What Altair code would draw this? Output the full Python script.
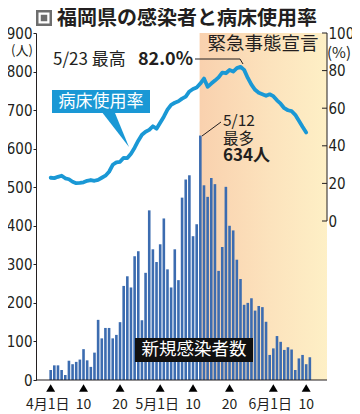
import altair as alt
import pandas as pd

# ---- data ----
# daily new cases, 2021-04-01 .. 2021-06-11 (day index 0..71)
cases = [26, 38, 38, 26, 13, 50, 41, 47, 53, 80, 51, 34, 71, 156, 108, 135, 135, 108, 117, 150,
         244, 269, 240, 321, 334, 155, 278, 440, 339, 306,
         352, 419, 287, 240, 339, 259, 473, 520, 531, 373, 404, 634, 505, 475, 524, 508, 283, 345,
         501, 400, 388, 312, 262, 195, 200, 212, 180, 192, 189, 151, 65,
         82, 114, 99, 78, 85, 79, 26, 56, 65, 41, 59]
# bed occupancy rate (%), 2021-04-01 .. 2021-06-10
rate = [23.0, 22.8, 23.5, 24.1, 22.7, 22.2, 20.9, 20.1, 20.3, 20.6,
        21.4, 21.8, 21.4, 21.9, 23.0, 24.1, 26.2, 29.9, 31.2, 31.5,
        33.6, 33.5, 35.8, 39.0, 42.7, 45.9, 47.5, 48.5, 50.4, 49.1,
        52.3, 55.5, 59.2, 61.8, 62.9, 63.7, 65.1, 66.2, 68.9, 70.2,
        71.0, 73.1, 75.8, 71.4, 73.1, 74.7, 76.4, 78.9, 78.6, 80.3,
        79.5, 81.3, 82.0, 80.4, 76.1, 72.5, 69.8, 68.2, 67.4, 66.6,
        67.4, 66.4, 64.2, 62.4, 60.0, 58.9, 58.4, 56.5, 53.3, 50.1, 47.1]
tick_days = [0, 9, 19, 30, 39, 49, 61, 70]
tick_labels = ["4月1日", "10", "20", "5月1日", "10", "20", "6月1日", "10"]
left_ticks = [0, 100, 200, 300, 400, 500, 600, 700, 800, 900]
rate_ticks = [0, 20, 40, 60, 80, 100]
emergency_start = 40.8   # 5/12
emergency_end = 80       # 6/20

W, H = 291, 347
FONT = "Noto Sans CJK JP"
NUMFONT = "'Liberation Sans Narrow', 'DejaVu Sans Condensed', 'Noto Sans CJK JP'"
INK = "#231f20"
BAR = "#3c6cb0"
LINE = "#1a98d5"

df_cases = pd.DataFrame({"day": list(range(len(cases))), "cases": cases})
df_rate = pd.DataFrame({"day": list(range(len(rate))), "rate": rate})
df_ticks = pd.DataFrame({"day": tick_days, "label": tick_labels})
dummy = pd.DataFrame({"a": [0]})

xs = alt.Scale(domain=[-2.65, 74.33], nice=False, zero=False)
ys = alt.Scale(domain=[0, 900], nice=False, zero=True)
rs = alt.Scale(domain=[-84.57, 100], nice=False, zero=False)

laxis = alt.Axis(values=left_ticks, title=None, grid=False, tickSize=3, tickColor=INK,
                 domainColor=INK, labelFont=NUMFONT, labelFontSize=15, labelColor=INK,
                 labelPadding=1)
raxis = alt.Axis(orient="right", values=rate_ticks, title=None, grid=False, ticks=False,
                 domain=False, labelFont=NUMFONT, labelFontSize=15, labelColor=INK,
                 labelPadding=1)

shade = alt.Chart(pd.DataFrame({"start": [emergency_start], "end": [emergency_end]})).mark_rect(
    clip=True,
    color=alt.Gradient(gradient="linear",
                       stops=[alt.GradientStop(color="#f9d1ae", offset=0),
                              alt.GradientStop(color="#fce3bd", offset=0.5),
                              alt.GradientStop(color="#fef3c8", offset=1)],
                       x1=0, x2=1, y1=0, y2=0)
).encode(x=alt.X("start:Q", scale=xs, axis=None), x2="end:Q",
         y=alt.value(0), y2=alt.value(H))

bars = alt.Chart(df_cases).mark_bar(size=2.6, color=BAR).encode(
    x=alt.X("day:Q", scale=xs, axis=None),
    y=alt.Y("cases:Q", scale=ys, axis=laxis))

line = alt.Chart(df_rate).mark_line(color=LINE, strokeWidth=3.8, strokeJoin="round",
                                    strokeCap="round").encode(
    x=alt.X("day:Q", scale=xs, axis=None),
    y=alt.Y("rate:Q", scale=rs, axis=raxis))
raxis_line = alt.Chart(pd.DataFrame({"rate": [0], "rate2": [100]})).mark_rule(
    color=INK, strokeWidth=1).encode(
    x=alt.value(W), y=alt.Y("rate:Q", scale=rs, axis=raxis), y2="rate2:Q")
raxis_ticks = alt.Chart(pd.DataFrame({"rate": rate_ticks})).mark_rule(
    color=INK, strokeWidth=1).encode(
    x=alt.value(W - 5), x2=alt.value(W), y=alt.Y("rate:Q", scale=rs, axis=raxis))
right_group = alt.layer(line, raxis_line, raxis_ticks)

bottom = alt.Chart(dummy).mark_rule(color=INK, strokeWidth=1.2).encode(
    x=alt.value(0), x2=alt.value(W), y=alt.value(H))

tri = alt.Chart(df_ticks).mark_point(shape="triangle-up", filled=True, color="black",
                                     size=80, opacity=1).encode(
    x=alt.X("day:Q", scale=xs, axis=None), y=alt.value(H + 8))
tlab_m = alt.Chart(df_ticks[df_ticks["label"].str.contains("月")]).mark_text(
    font=FONT, fontSize=14, color=INK, dx=-3, baseline="middle").encode(
    x=alt.X("day:Q", scale=xs, axis=None), y=alt.value(H + 25), text="label:N")
tlab_n = alt.Chart(df_ticks[~df_ticks["label"].str.contains("月")]).mark_text(
    font=FONT, fontSize=14, color=INK, baseline="middle").encode(
    x=alt.X("day:Q", scale=xs, axis=None), y=alt.value(H + 25), text="label:N")


def txt(s, x, y, size=16, weight="normal", color=INK, align="left"):
    return alt.Chart(dummy).mark_text(text=s, font=FONT, fontSize=size, fontWeight=weight,
                                      color=color, align=align, baseline="middle").encode(
        x=alt.value(x), y=alt.value(y))


def seg(x1, y1, x2, y2, color=INK, w=1):
    return alt.Chart(dummy).mark_rule(color=color, strokeWidth=w).encode(
        x=alt.value(x1), y=alt.value(y1), x2=alt.value(x2), y2=alt.value(y2))


def box(x1, y1, x2, y2, color):
    return alt.Chart(dummy).mark_rect(color=color).encode(
        x=alt.value(x1), y=alt.value(y1), x2=alt.value(x2), y2=alt.value(y2))


def sq(x, y, s, color):
    return alt.Chart(dummy).mark_point(shape="square", filled=True, color=color, size=s,
                                       opacity=1, strokeWidth=0).encode(
        x=alt.value(x), y=alt.value(y))


annotations = [
    # title
    sq(8, -15, 256, "#6d6d6d"), sq(8, -15, 121, "white"), sq(8, -15, 42, "#6d6d6d"),
    txt("福岡県の感染者と病床使用率", 21, -14, size=20, weight="bold"),
    # axis unit labels
    txt("(人)", -14, 17.5, size=13, align="center"),
    txt("(%)", 303, 20, size=15, align="center"),
    # emergency declaration
    txt("緊急事態宣言", 227, 11, size=18.5, align="center"),
    # peak of bed rate
    txt("5/23 最高", 17, 27, size=17),
    txt("82.0%", 157, 27, size=18, weight="bold", align="right"),
    seg(159, 26, 204, 26), seg(204, 26, 207, 31),
    # bed usage label box
    box(16, 57, 114, 80, LINE),
    txt("病床使用率", 65, 68.5, size=17, color="white", align="center"),
    alt.Chart(dummy).mark_point(shape="M-0.776,-1L-0.047,-1L0.776,1Z", filled=True,
                                color=LINE, size=1156, opacity=1, strokeWidth=0).encode(
        x=alt.value(79.8), y=alt.value(97)),
    # max cases
    txt("5/12", 187, 88, size=15.5),
    txt("最多", 187, 105.5, size=15.5),
    txt("634人", 187, 123, size=17, weight="bold"),
    seg(166, 103, 185, 89),
    # new cases label
    box(99, 305, 217, 329, "#111111"),
    txt("新規感染者数", 158, 317, size=17.5, color="white", align="center"),
]

chart = alt.layer(shade, bars, right_group, bottom, tri, tlab_m, tlab_n, *annotations).resolve_scale(
    y="independent"
).properties(
    width=W, height=H,
    padding={"left": 28, "top": 25, "right": 25, "bottom": 34},
    autosize=alt.AutoSizeParams(type="none"),
    background="white",
).configure_view(stroke=None)

chart.save("out.html", embed_options={"renderer": "svg", "actions": False})
